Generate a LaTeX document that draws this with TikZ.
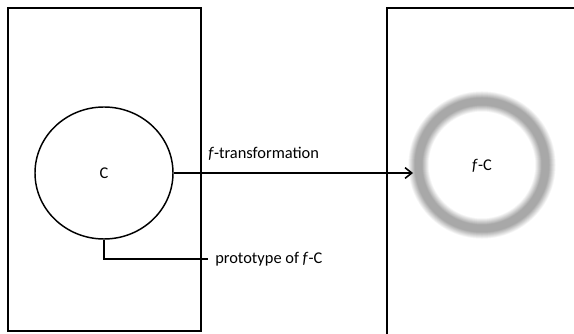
\documentclass[tikz,border=0pt]{standalone}
\usepackage{fontspec}
\setmainfont{Carlito}
\usetikzlibrary{arrows.meta,shapes.geometric}

\definecolor{ringgray}{RGB}{168,168,168}

\tikzset{
  box/.style={line width=1.5pt},
  blob/.style={draw,ellipse,line width=1.1pt,minimum width=103.5pt,minimum height=99pt,inner sep=0pt},
  lab/.style={font=\fontsize{12.3}{14}\selectfont,inner sep=0pt}
}

\begin{document}
\begin{tikzpicture}[line cap=butt,line join=miter,x=0.75pt,y=-0.75pt]
\useasboundingbox (0,0) rectangle (574,334);
\clip (0,0) rectangle (574,334);
% the two frames
\draw[box] (8,8) rectangle (201,331);
\draw[box] (387,8) rectangle (620,360);
% the soft ring on the right: wide pale strokes first, narrow dark ones on top
\foreach \w in {21,20.5,...,7}{
  \pgfmathsetmacro{\p}{100*(21-\w)/14}
  \draw[color=ringgray!\p!white,line width=0.75*\w pt] (482,165) circle (63.5);
}
\node[lab] (fc) at (482,166) {\textit{f}-C};
\coordinate (tip) at (413,173);
% the circle and its links
\node[blob] (c) at (104,173) {};
\node[lab] at (c.center) {C};
\draw[line width=1.5pt,-{Straight Barb[length=5pt,width=8pt,line width=1.2pt]}] (c.east) -- (tip);
\node[lab,anchor=west] (ft) at (208,154) {\textit{f}-transformation};
\node[lab,anchor=west] (proto) at (215,259) {prototype of \textit{f}-C};
\draw[line width=1.5pt] (c.south) |- ([xshift=-5.25pt]proto.west);
\end{tikzpicture}
\end{document}
